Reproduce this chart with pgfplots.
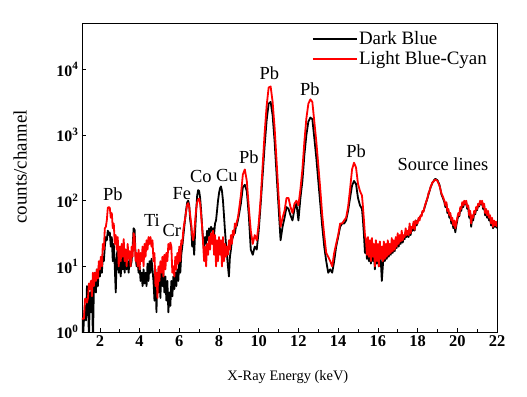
\documentclass[border=0pt]{standalone}
\usepackage{fontspec}
\setmainfont{Liberation Serif}
\usepackage{pgfplots}
\pgfplotsset{compat=1.18}
\begin{document}
\begin{tikzpicture}
\begin{axis}[
 scale only axis, width=415bp, height=309bp,
 xmin=1.1, xmax=22, ymode=log, log basis y=10, ymin=1, ymax=51000,
 xtick={2,4,...,22}, minor x tick num=1,
 ytick={1,10,100,1000,10000},
 tick pos=left, tick align=inside,
 major tick length=4bp, minor tick length=3bp,
 every tick/.style={black, line width=0.6bp},
 axis line style={line width=0.8bp},
 xticklabel style={font=\fontsize{16.5}{16.5}\selectfont\bfseries},
 yticklabel style={font=\fontsize{16}{16}\selectfont\bfseries},
 xticklabel={\pgfmathparse{int(\tick)}\pgfmathresult},
 yticklabel={10\textsuperscript{\pgfmathparse{int(round(\tick))}\pgfmathresult}},
 xlabel={X-Ray Energy (keV)},
 xlabel style={font=\fontsize{14.5}{14.5}\selectfont, at={(axis description cs:0.496,-0.146)}, anchor=center},
 ylabel={counts/channel},
 ylabel style={font=\fontsize{19}{19}\selectfont, at={(axis description cs:-0.149,0.534)}, anchor=center},
 legend style={draw=none, fill=none, at={(axis description cs:0.986,0.984)}, anchor=north east,
   font=\fontsize{19}{19}\selectfont, row sep=3bp, nodes={inner sep=1.2bp}},
 legend cell align=left,
 legend image code/.code={\draw[mark repeat=2,mark phase=2] plot coordinates {(0bp,0bp) (22bp,0bp) (44bp,0bp)};},
 every axis plot/.append style={line width=1.8bp, no markers, line join=round},
]
\addplot[black] table {
1.10 1.6
1.15 0.8
1.20 1.6
1.25 2.5
1.30 1.5
1.35 5
1.40 3
1.45 0.8
1.50 4
1.55 2
1.60 6
1.65 0.7
1.70 5
1.75 8
1.80 4
1.85 9
1.90 5
1.95 10
2.00 7
2.05 11
2.10 8
2.15 14
2.20 12
2.25 20
2.30 28
2.35 25
2.40 35
2.45 30
2.50 33
2.55 20
2.60 28
2.65 12
2.70 22
2.75 10
2.80 4
2.85 15
2.90 18
2.95 8
3.00 12
3.05 7
3.10 14
3.15 9
3.20 16
3.25 8
3.30 18
3.35 9
3.40 12
3.45 8
3.50 14
3.55 10
3.60 12
3.65 20
3.70 38
3.75 36
3.80 14
3.85 10
3.90 12
3.95 8
4.00 10
4.05 6
4.10 8
4.15 5
4.20 9
4.25 5.5
4.30 8
4.35 5
4.40 11
4.45 6
4.50 12
4.55 8
4.60 13
4.65 9
4.70 6
4.75 3
4.80 9
4.85 2
4.90 8
4.95 4
5.00 10
5.05 3.3
5.10 11
5.15 5
5.20 8
5.25 4
5.30 7
5.35 3
5.40 6
5.45 2
5.50 4
5.55 2.5
5.60 6
5.65 3.5
5.70 7
5.75 4.5
5.80 8
5.85 5
5.90 9
5.95 6
6.00 12
6.05 8
6.10 15
6.15 20
6.20 28
6.25 40
6.30 55
6.35 75
6.40 95
6.45 100
6.50 85
6.55 50
6.60 40
6.65 20
6.70 25
6.75 15
6.80 35
6.85 70
6.90 120
6.95 145
7.00 140
7.05 110
7.10 70
7.15 40
7.20 25
7.25 18
7.30 28
7.35 22
7.40 35
7.45 25
7.50 38
7.55 30
7.60 40
7.65 35
7.70 38
7.75 30
7.80 45
7.85 50
7.90 70
7.95 100
8.00 130
8.05 155
8.10 165
8.15 140
8.20 100
8.25 60
8.30 35
8.35 22
8.40 15
8.45 10
8.50 7
8.55 14
8.60 18
8.65 25
8.70 28
8.75 35
8.80 32
8.85 40
8.90 42
8.95 50
9.00 60
9.1 90
9.2 160
9.3 175
9.4 140
9.5 60
9.6 18
9.7 15
9.8 20
9.9 18
10.0 35
10.1 90
10.2 250
10.3 700
10.4 1700
10.5 3000
10.6 3200
10.7 2000
10.8 800
10.9 250
11.0 80
11.1 25
11.2 40
11.3 55
11.4 80
11.5 75
11.6 60
11.7 50
11.8 75
11.9 90
12.0 50
12.1 110
12.2 200
12.3 500
12.4 1000
12.5 1600
12.6 1850
12.7 1750
12.8 900
12.9 450
13.0 200
13.1 90
13.2 40
13.3 20
13.4 12
13.5 8
13.6 9
13.7 8
13.8 12
13.9 20
14.0 28
14.1 40
14.2 45
14.3 45
14.4 50
14.5 70
14.6 110
14.7 170
14.8 200
14.9 180
15.0 110
15.1 85
15.20 75
15.25 50
15.30 30
15.35 16
15.40 22
15.45 13
15.50 25
15.55 12
15.60 20
15.65 11
15.70 22
15.75 12
15.80 18
15.85 9
15.90 20
15.95 11
16.00 18
16.05 10
16.10 20
16.15 12
16.20 6
16.25 10
16.30 20
16.35 12
16.40 18
16.45 13
16.50 21
16.55 14
16.60 19
16.65 15
16.70 23
16.75 16
16.80 22
16.85 17
16.90 25
16.95 19
17.00 28
17.05 20
17.10 27
17.15 22
17.20 30
17.25 23
17.30 28
17.35 26
17.40 33
17.45 28
17.50 32
17.55 28
17.60 40
17.65 30
17.70 38
17.75 35
17.80 45
17.85 35
17.90 50
17.95 42
18.00 48
18.05 52
18.10 55
18.15 58
18.20 60
18.25 68
18.30 70
18.35 78
18.40 88
18.45 98
18.50 110
18.55 125
18.60 140
18.65 158
18.70 172
18.75 188
18.80 198
18.85 210
18.90 215
18.95 210
19.00 205
19.05 190
19.10 175
19.15 150
19.20 125
19.25 115
19.30 105
19.35 95
19.40 80
19.45 90
19.50 65
19.55 70
19.60 55
19.65 60
19.70 45
19.75 50
19.80 38
19.85 45
19.90 33
19.95 42
20.00 50
20.05 60
20.10 58
20.15 75
20.20 70
20.25 90
20.30 80
20.35 95
20.40 88
20.45 95
20.50 75
20.55 80
20.60 55
20.65 65
20.70 40
20.75 55
20.80 50
20.85 65
20.90 62
20.95 75
21.00 72
21.05 88
21.10 82
21.15 95
21.20 88
21.25 95
21.30 75
21.35 85
21.40 60
21.45 70
21.50 55
21.55 65
21.60 50
21.65 55
21.70 42
21.75 50
21.80 38
21.85 45
21.90 40
21.95 44
22.00 38
};
\addlegendentry{Dark Blue}
\addplot[red] table {
1.10 1.6
1.15 1.6
1.20 1.6
1.25 3.2
1.30 3.2
1.35 2.8
1.40 3.3
1.45 5.5
1.50 4.5
1.55 6
1.60 3.5
1.65 8
1.70 5
1.75 8
1.80 6
1.85 9
1.90 6.5
1.95 12
2.00 9
2.05 14
2.10 10
2.15 22
2.20 18
2.25 38
2.30 40
2.35 50
2.40 78
2.45 80
2.50 78
2.55 55
2.60 65
2.65 38
2.70 45
2.75 22
2.80 30
2.85 18
2.90 28
2.95 10
3.00 20
3.05 12
3.10 22
3.15 14
3.20 26
3.25 12
3.30 18
3.35 10
3.40 22
3.45 13
3.50 17
3.55 10
3.60 20
3.65 14
3.70 32
3.75 28
3.80 12
3.85 16
3.90 10
3.95 18
4.00 9
4.05 16
4.10 12
4.15 20
4.20 10
4.25 22
4.30 14
4.35 25
4.40 18
4.45 28
4.50 22
4.55 28
4.60 20
4.65 25
4.70 12
4.75 16
4.80 5
4.85 8
4.90 3.3
4.95 10
5.00 6
5.05 12
5.10 8
5.15 14
5.20 7
5.25 15
5.30 9
5.35 16
5.40 12
5.45 22
5.50 18
5.55 23
5.60 20
5.65 8
5.70 10
5.75 7
5.80 14
5.85 9
5.90 16
5.95 11
6.00 20
6.05 12
6.10 25
6.15 22
6.20 35
6.25 45
6.30 55
6.35 70
6.40 88
6.45 92
6.50 80
6.55 60
6.60 45
6.65 30
6.70 25
6.75 32
6.80 50
6.85 75
6.90 95
6.95 105
7.00 108
7.05 90
7.10 60
7.15 40
7.20 22
7.25 12
7.30 20
7.35 10
7.40 22
7.45 15
7.50 28
7.55 18
7.60 32
7.65 22
7.70 35
7.75 15
7.80 30
7.85 10
7.90 25
7.95 12
8.00 28
8.05 15
8.10 25
8.15 10
8.20 28
8.25 12
8.30 22
8.35 14
8.40 20
8.45 15
8.50 25
8.55 18
8.60 30
8.65 22
8.70 35
8.75 30
8.80 45
8.85 40
8.90 48
8.95 55
9.00 70
9.1 120
9.2 250
9.3 300
9.4 200
9.5 80
9.6 35
9.7 22
9.8 30
9.9 25
10.0 45
10.1 110
10.2 350
10.3 1100
10.4 2800
10.5 5300
10.6 5500
10.7 3200
10.8 1300
10.9 400
11.0 120
11.1 40
11.2 55
11.3 70
11.4 110
11.5 110
11.6 80
11.7 65
11.8 90
11.9 100
12.0 85
12.1 150
12.2 300
12.3 800
12.4 1800
12.5 3000
12.6 3500
12.7 3200
12.8 1600
12.9 800
13.0 350
13.1 150
13.2 60
13.3 30
13.4 16
13.5 14
13.6 12
13.7 10
13.8 16
13.9 22
14.0 30
14.1 45
14.2 45
14.3 50
14.4 55
14.5 80
14.6 150
14.7 300
14.8 380
14.9 320
15.0 180
15.1 140
15.20 120
15.25 80
15.30 50
15.35 30
15.40 25
15.45 15
15.50 28
15.55 14
15.60 25
15.65 12
15.70 27
15.75 14
15.80 22
15.85 10
15.90 25
15.95 12
16.00 22
16.05 10
16.10 24
16.15 13
16.20 20
16.25 12
16.30 24
16.35 13
16.40 22
16.45 14
16.50 25
16.55 15
16.60 22
16.65 16
16.70 27
16.75 17
16.80 25
16.85 18
16.90 28
16.95 20
17.00 32
17.05 22
17.10 30
17.15 24
17.20 35
17.25 25
17.30 30
17.35 28
17.40 38
17.45 30
17.50 35
17.55 30
17.60 45
17.65 32
17.70 40
17.75 38
17.80 48
17.85 36
17.90 50
17.95 45
18.00 45
18.05 55
18.10 50
18.15 60
18.20 58
18.25 70
18.30 68
18.35 80
18.40 90
18.45 100
18.50 110
18.55 130
18.60 140
18.65 160
18.70 175
18.75 190
18.80 195
18.85 205
18.90 210
18.95 205
19.00 200
19.05 185
19.10 170
19.15 150
19.20 130
19.25 120
19.30 110
19.35 100
19.40 85
19.45 95
19.50 70
19.55 75
19.60 60
19.65 65
19.70 50
19.75 55
19.80 42
19.85 50
19.90 38
19.95 45
20.00 55
20.05 65
20.10 60
20.15 80
20.20 75
20.25 95
20.30 85
20.35 100
20.40 90
20.45 100
20.50 80
20.55 85
20.60 60
20.65 70
20.70 45
20.75 60
20.80 55
20.85 70
20.90 65
20.95 80
21.00 75
21.05 90
21.10 85
21.15 100
21.20 90
21.25 100
21.30 80
21.35 90
21.40 65
21.45 75
21.50 60
21.55 70
21.60 55
21.65 60
21.70 45
21.75 55
21.80 40
21.85 50
21.90 42
21.95 48
22.00 40
};
\addlegendentry{Light Blue-Cyan}
\begin{scope}[font=\fontsize{18.5}{18.5}\selectfont]
\node at (axis cs:2.65,127) {Pb};
\node at (axis cs:4.62,50) {Ti};
\node at (axis cs:5.62,35) {Cr};
\node at (axis cs:6.13,127) {Fe};
\node at (axis cs:7.09,230) {Co};
\node at (axis cs:8.4,240) {Cu};
\node at (axis cs:9.5,465) {Pb};
\node at (axis cs:10.53,8700) {Pb};
\node at (axis cs:12.58,4950) {Pb};
\node at (axis cs:14.9,575) {Pb};
\node at (axis cs:19.28,363) {Source lines};
\end{scope}
\end{axis}
\pgfresetboundingbox
\path (current axis.south west) ++(-82bp,-65bp) rectangle ([shift={(30bp,23bp)}]current axis.north east);
\end{tikzpicture}
\end{document}
